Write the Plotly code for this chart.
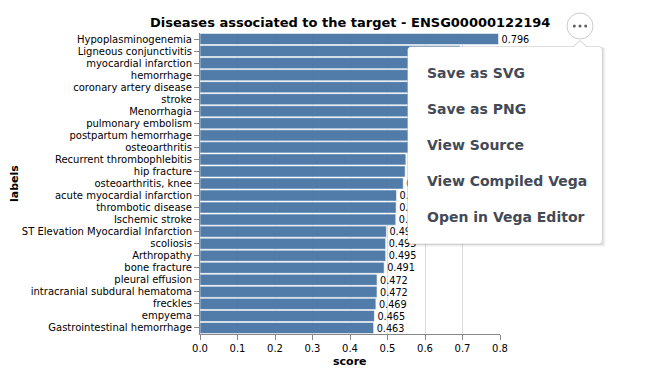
import plotly.graph_objects as go

labels = [
    "Hypoplasminogenemia", "Ligneous conjunctivitis", "myocardial infarction",
    "hemorrhage", "coronary artery disease", "stroke", "Menorrhagia",
    "pulmonary embolism", "postpartum hemorrhage", "osteoarthritis",
    "Recurrent thrombophlebitis", "hip fracture", "osteoarthritis, knee",
    "acute myocardial infarction", "thrombotic disease", "Ischemic stroke",
    "ST Elevation Myocardial Infarction", "scoliosis", "Arthropathy",
    "bone fracture", "pleural effusion", "intracranial subdural hematoma",
    "freckles", "empyema", "Gastrointestinal hemorrhage",
]
scores = [
    0.796, 0.693, 0.648, 0.625, 0.610, 0.598, 0.585, 0.575, 0.566, 0.558,
    0.549, 0.547, 0.542, 0.524, 0.523, 0.522, 0.497, 0.495, 0.495, 0.491,
    0.472, 0.472, 0.469, 0.465, 0.463,
]
x_ticks = [0.0, 0.1, 0.2, 0.3, 0.4, 0.5, 0.6, 0.7, 0.8]
menu_items = ["Save as SVG", "Save as PNG", "View Source",
              "View Compiled Vega", "Open in Vega Editor"]
title_text = "Diseases associated to the target - ENSG00000122194"

OFF = 8  # page body margin
W, H = 647 - OFF, 377 - OFF
ML, MT = 200 - OFF, 33 - OFF
PR, PB = 500 - OFF, 334 - OFF
MR, MB = W - PR, H - PB
PW = W - ML - MR
PH = H - MT - MB
FONT = "DejaVu Sans"


def px(x):
    return (x - OFF - ML) / PW


def py(y):
    return (PB - (y - OFF)) / PH


fig = go.Figure()
fig.add_trace(go.Bar(
    x=scores, y=labels, orientation="h",
    marker=dict(color="#4c78a8", opacity=0.97,
                line=dict(color="rgba(255,255,255,0.55)", width=1)),
    texttemplate="%{x:.3f}", textposition="outside", textangle=0,
    textfont=dict(family=FONT, size=10.5, color="#000"),
    cliponaxis=False, hoverinfo="skip",
))

MENU_TOP = 46.5
shapes = []
# menu shadow
for i, a in enumerate([0.05, 0.04, 0.03]):
    o = i + 1
    shapes.append(dict(type="rect", xref="paper", yref="paper",
                       x0=px(407.5 + o * 0.5), x1=px(602.5 + o),
                       y0=py(244 + o), y1=py(MENU_TOP + o * 0.5),
                       fillcolor=f"rgba(0,0,0,{a})", line=dict(width=0),
                       layer="above"))


def rrect(x0, y0, x1, y1, r):
    rx, ry = r / PW, r / PH
    X0, X1 = px(x0), px(x1)
    Y0, Y1 = py(y0), py(y1)
    return (f"M {X0+rx},{Y0} L {X1-rx},{Y0} Q {X1},{Y0} {X1},{Y0-ry} "
            f"L {X1},{Y1+ry} Q {X1},{Y1} {X1-rx},{Y1} L {X0+rx},{Y1} "
            f"Q {X0},{Y1} {X0},{Y1+ry} L {X0},{Y0-ry} Q {X0},{Y0} {X0+rx},{Y0} Z")


shapes.append(dict(type="path", xref="paper", yref="paper",
                   path=rrect(407.5, MENU_TOP, 602.5, 244, 4),
                   fillcolor="white", line=dict(color="rgba(0,0,0,0.13)", width=1),
                   layer="above"))
# notch
shapes.append(dict(type="path", xref="paper", yref="paper",
                   path=f"M {px(573.5)},{py(MENU_TOP + 0.8)} L {px(580)},{py(40.5)} L {px(586.5)},{py(MENU_TOP + 0.8)} Z",
                   fillcolor="white", line=dict(width=0), layer="above"))
shapes.append(dict(type="path", xref="paper", yref="paper",
                   path=f"M {px(573.5)},{py(MENU_TOP)} L {px(580)},{py(40.5)} L {px(586.5)},{py(MENU_TOP)}",
                   line=dict(color="rgba(0,0,0,0.18)", width=1), layer="above"))
# button
shapes.append(dict(type="circle", xref="paper", yref="paper",
                   x0=px(567), x1=px(593), y0=py(39), y1=py(13),
                   fillcolor="white", line=dict(color="#cccccc", width=1),
                   layer="above"))
for cx in (574.3, 580.0, 585.7):
    shapes.append(dict(type="circle", xref="paper", yref="paper",
                       x0=px(cx - 1.5), x1=px(cx + 1.5),
                       y0=py(26 + 1.5), y1=py(26 - 1.5),
                       fillcolor="#5f5f5f", line=dict(width=0), layer="above"))

annotations = []
for i, t in enumerate(menu_items):
    annotations.append(dict(text=t, xref="paper", yref="paper",
                            x=px(425), y=py(73 + 36 * i),
                            xanchor="left", yanchor="middle", showarrow=False,
                            font=dict(family=FONT, size=14, color="#434a56",
                                      weight="bold")))
annotations.append(dict(text="<b>score</b>", xref="paper", yref="paper",
                        x=px(350), y=py(361), xanchor="center", yanchor="middle",
                        showarrow=False, font=dict(family=FONT, size=11, color="#000")))
annotations.append(dict(text="<b>labels</b>", xref="paper", yref="paper",
                        x=px(14), y=py(184), xanchor="center", yanchor="middle",
                        textangle=-90, showarrow=False,
                        font=dict(family=FONT, size=11, color="#000")))
annotations.append(dict(text=f"<b>{title_text}</b>", xref="paper", yref="paper",
                        x=px(350), y=py(22), xanchor="center", yanchor="middle",
                        showarrow=False, font=dict(family=FONT, size=13, color="#000")))

fig.update_layout(
    width=W, height=H,
    margin=dict(l=ML, r=MR, t=MT, b=MB, autoexpand=False),
    paper_bgcolor="white", plot_bgcolor="white",
    bargap=0.08, showlegend=False,
    font=dict(family=FONT, size=10, color="#000"),
    xaxis=dict(range=[0, 0.8], tickvals=x_ticks, tickformat=".1f",
               showgrid=True, gridcolor="#dddddd", gridwidth=1,
               zeroline=False, showline=True, linecolor="#888", linewidth=1,
               ticks="outside", ticklen=5, tickcolor="#888",
               tickfont=dict(family=FONT, size=10, color="#000"), fixedrange=True),
    yaxis=dict(autorange="reversed", showgrid=False, zeroline=False,
               showline=True, linecolor="#888", linewidth=1,
               ticks="outside", ticklen=5, tickcolor="#888",
               tickfont=dict(family=FONT, size=10, color="#000"), fixedrange=True),
    shapes=shapes, annotations=annotations,
)

fig.write_html("out.html")
